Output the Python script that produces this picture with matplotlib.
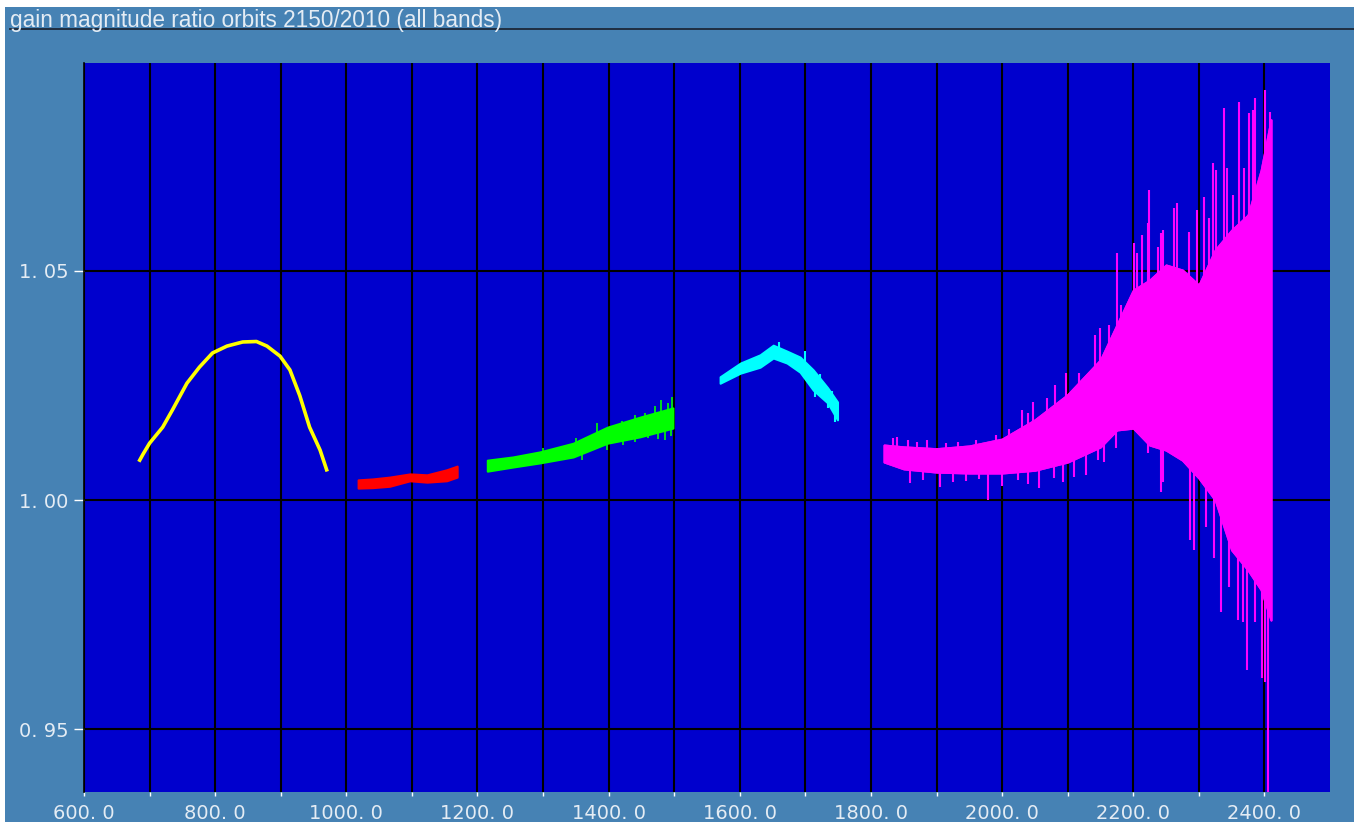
import numpy as np
import matplotlib
matplotlib.use("Agg")
import matplotlib.pyplot as plt
from matplotlib.patches import Rectangle
from matplotlib.lines import Line2D

# band 1 (yellow) - thin curve
yel_x = [685, 690, 700, 720, 735, 757, 776, 796, 818, 842, 863, 879, 899, 914, 929, 944, 960, 970]
yel_y = [1.0087, 1.0100, 1.0124, 1.0159, 1.0197, 1.0255, 1.0290, 1.0321, 1.0336, 1.0345, 1.0346,
         1.0336, 1.0314, 1.0284, 1.0228, 1.0159, 1.0109, 1.0066]

# band 2 (red) - envelope
red_x = [1018, 1040, 1066, 1097, 1123, 1153, 1169]
red_hi = [1.0044, 1.0046, 1.0050, 1.0057, 1.0055, 1.0066, 1.0074]
red_lo = [1.0026, 1.0027, 1.0030, 1.0042, 1.0039, 1.0042, 1.0050]

# band 3 (green) - envelope and spikes
grn_x = [1215, 1254, 1295, 1346, 1398, 1448, 1498]
grn_hi = [1.0087, 1.0094, 1.0105, 1.0124, 1.0159, 1.0181, 1.0201]
grn_lo = [1.0063, 1.0072, 1.0081, 1.0094, 1.0124, 1.0138, 1.0157]
grn_spk_x = [1300, 1350, 1382, 1420, 1440, 1455, 1470, 1480, 1490, 1497,
             1360, 1398, 1422, 1440, 1460, 1475, 1486, 1495]
grn_spk_y = [1.0113, 1.0135, 1.0168, 1.0172, 1.0185, 1.0190, 1.0205, 1.0218, 1.0212, 1.0225,
             1.0087, 1.0109, 1.0120, 1.0127, 1.0135, 1.0133, 1.0131, 1.0140]

# band 4 (cyan) - envelope and spikes
cyn_x = [1570, 1601, 1631, 1651, 1672, 1692, 1712, 1734, 1749]
cyn_hi = [1.0269, 1.0299, 1.0317, 1.0338, 1.0325, 1.0312, 1.0284, 1.0245, 1.0214]
cyn_lo = [1.0255, 1.0277, 1.0290, 1.0310, 1.0299, 1.0279, 1.0240, 1.0212, 1.0175]
cyn_spk_x = [1660, 1700, 1722, 1740, 1715, 1735, 1745]
cyn_spk_y = [1.0345, 1.0325, 1.0275, 1.0238, 1.0225, 1.0200, 1.0170]

# band 5 (magenta) - envelope and spikes
mag_x = [1820, 1850, 1900, 1950, 2000, 2050, 2100, 2150, 2175, 2200,
         2225, 2250, 2275, 2300, 2325, 2350, 2375, 2395, 2410]
mag_hi = [1.0120, 1.0116, 1.0112, 1.0118, 1.0133, 1.0175, 1.0230, 1.0306, 1.0382, 1.0458,
          1.0480, 1.0513, 1.0502, 1.0469, 1.0546, 1.0589, 1.0622, 1.0720, 1.0830]
mag_lo = [1.0083, 1.0068, 1.0061, 1.0059, 1.0059, 1.0065, 1.0083, 1.0116, 1.0153, 1.0157,
          1.0120, 1.0109, 1.0087, 1.0048, 1.0000, 0.9891, 0.9847, 0.9804, 0.9738]
mag_up_x = [1833, 1840, 1856, 1870, 1885, 1915, 1932, 1960, 1990, 2010, 2031, 2040, 2047,
            2069, 2080, 2097, 2118, 2141, 2149, 2163, 2175, 2182, 2201, 2205, 2214, 2222,
            2224, 2237, 2243, 2246, 2262, 2266, 2285, 2297, 2308, 2315, 2321, 2326, 2338,
            2343, 2352, 2361, 2369, 2376, 2382, 2385, 2401, 2408]
mag_up_y = [1.0135, 1.0138, 1.0131, 1.0127, 1.0131, 1.0124, 1.0127, 1.0131, 1.0142, 1.0155,
            1.0196, 1.0190, 1.0214, 1.0223, 1.0251, 1.0277, 1.0277, 1.0360, 1.0375, 1.0382,
            1.0539, 1.0426, 1.0561, 1.0539, 1.0578, 1.0605, 1.0677, 1.0552, 1.0583, 1.0589,
            1.0637, 1.0648, 1.0585, 1.0633, 1.0661, 1.0616, 1.0736, 1.0720, 1.0856, 1.0725,
            1.0666, 1.0869, 1.0725, 1.0845, 1.0851, 1.0878, 1.0895, 1.0847]
mag_dn_x = [1860, 1880, 1906, 1925, 1945, 1965, 1978, 2000, 2024, 2040, 2056, 2079, 2093,
            2110, 2128, 2146, 2155, 2173, 2222, 2242, 2246, 2286, 2292, 2311, 2323, 2334,
            2346, 2360, 2367, 2373, 2385, 2396, 2401, 2405]
mag_dn_y = [1.0037, 1.0044, 1.0028, 1.0039, 1.0041, 1.0046, 1.0000, 1.0030, 1.0044, 1.0035,
            1.0026, 1.0048, 1.0039, 1.0050, 1.0055, 1.0087, 1.0083, 1.0114, 1.0103, 1.0017,
            1.0039, 0.9913, 0.9891, 0.9941, 0.9873, 0.9755, 0.9810, 0.9738, 0.9734, 0.9629,
            0.9734, 0.9611, 0.9603, 0.9360]

x_major = [600, 800, 1000, 1200, 1400, 1600, 1800, 2000, 2200, 2400]
x_minor = [700, 900, 1100, 1300, 1500, 1700, 1900, 2100, 2300]
y_ticks = [0.95, 1.00, 1.05]

W, H = 1354, 822
BG = "#4682B4"
PANEL = "#0000CD"
TXT = "#E4ECF4"

plt.rcParams['font.family'] = ['DejaVu Sans']

fig = plt.figure(figsize=(W / 100, H / 100), dpi=100, facecolor="white")
fig.patches.append(Rectangle((5 / W, 0), 1, 1 - 7 / H, transform=fig.transFigure,
                             facecolor=BG, edgecolor="none", zorder=-5))

fig.text(10 / W, 1 - 26.5 / H, "gain magnitude ratio orbits 2150/2010 (all bands)",
         family=['Liberation Sans', 'DejaVu Sans'], fontsize=16.3, color=TXT,
         ha="left", va="baseline")
fig.lines.append(Line2D([10 / W, 1], [1 - 29.5 / H] * 2, transform=fig.transFigure,
                        color="#1c2838", lw=1.3))

ax = fig.add_axes([84 / W, 30 / H, (1330 - 84) / W, (792 - 63) / H])
ax.set_facecolor(PANEL)
ax.set_xlim(600, 2500)
ax.set_ylim(0.93626, 1.0954)

ax.set_xticks(x_major)
ax.set_xticks(x_minor, minor=True)
ax.set_xticklabels(["%d. 0" % v for v in x_major])
ax.set_yticks(y_ticks)
ax.set_yticklabels([s.replace(".", ". ") for s in ["%.2f" % v for v in y_ticks]])
ax.tick_params(axis="x", which="both", length=3, width=1, color="white", pad=5.5,
               labelsize=14, labelcolor=TXT)
ax.tick_params(axis="y", length=7, width=1, color="white", pad=4,
               labelsize=14, labelcolor=TXT)
ax.grid(True, which="both", color="black", lw=1.5)
ax.set_axisbelow(True)
for s in ["top", "right", "bottom"]:
    ax.spines[s].set_visible(False)
ax.spines["left"].set_color("black")
ax.spines["left"].set_linewidth(1.2)


def band(xs, lo, hi, color, sx=None, sy=None, lw=1.2):
    ax.fill_between(xs, lo, hi, color=color, lw=1.5, edgecolor=color)
    if sx is not None:
        mid = (np.interp(sx, xs, lo) + np.interp(sx, xs, hi)) / 2
        ax.vlines(sx, mid, sy, color=color, lw=lw)


# yellow
ax.plot(yel_x, yel_y, color="#FFFF00", lw=2.6, solid_joinstyle="round")

band(red_x, red_lo, red_hi, "#FF0000")
band(grn_x, grn_lo, grn_hi, "#00FF00", grn_spk_x, grn_spk_y)
band(cyn_x, cyn_lo, cyn_hi, "#00FFFF", cyn_spk_x, cyn_spk_y, lw=1.5)
band(mag_x, mag_lo, mag_hi, "#FF00FF", mag_up_x, mag_up_y, lw=1.5)
band(mag_x, mag_lo, mag_hi, "#FF00FF", mag_dn_x, mag_dn_y, lw=1.5)

fig.savefig("out.png", dpi=100, facecolor="white")
